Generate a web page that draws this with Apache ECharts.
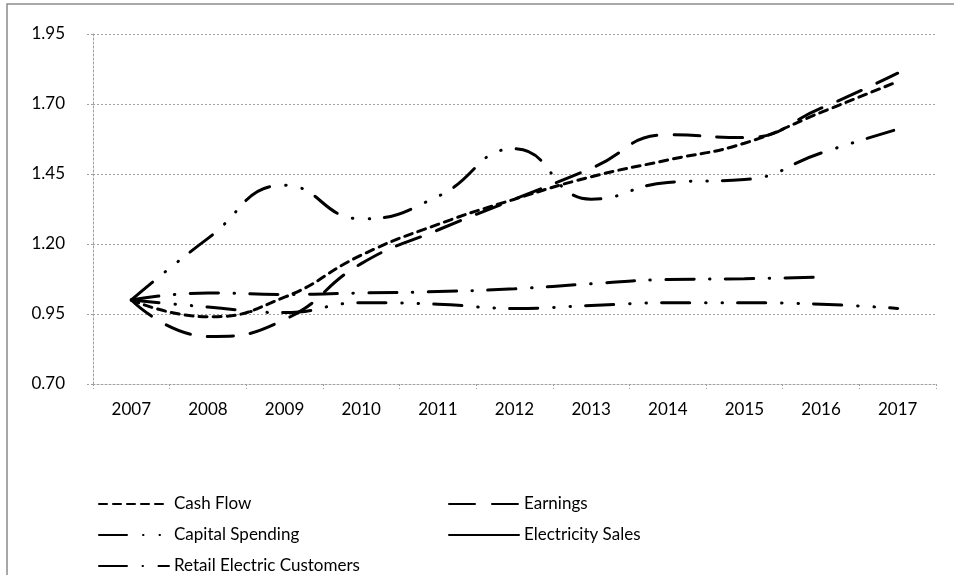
<!DOCTYPE html>
<html>
<head>
<meta charset="utf-8">
<script src="https://cdn.jsdelivr.net/npm/echarts@6/dist/echarts.min.js"></script>
<style>
html,body{margin:0;padding:0;background:#fff;}
#chart{width:954px;height:575px;}
</style>
</head>
<body>
<div id="chart"></div>
<script>
const years = ['2007','2008','2009','2010','2011','2012','2013','2014','2015','2016','2017'];
const cashFlow = [1.00, 0.94, 1.01, 1.16, 1.27, 1.36, 1.44, 1.50, 1.56, 1.67, 1.78];
const earnings = [1.00, 0.87, 0.93, 1.13, 1.25, 1.36, 1.47, 1.59, 1.58, 1.685, 1.81];
const capitalSpending = [1.00, 1.22, 1.41, 1.29, 1.37, 1.54, 1.36, 1.42, 1.43, 1.525, 1.61];
const electricitySales = [1.00, 0.975, 0.955, 0.99, 0.985, 0.97, 0.98, 0.99, 0.99, 0.985, 0.97];
const retailCustomers = [1.00, 1.025, 1.02, 1.025, 1.03, 1.04, 1.058, 1.073, 1.076, 1.082];
const yTicks = ['0.70','0.95','1.20','1.45','1.70','1.95'];

const FONT = 'Lato';
const gridColor = '#a0a0a0';
const dot = [2, 2];

function ser(name, data, dash) {
  return {
    name: name, type: 'line', data: data, smooth: 0.5, symbol: 'none',
    lineStyle: {color: '#000', width: 3, type: dash, cap: 'round'},
    itemStyle: {color: '#000'}
  };
}

const chart = echarts.init(document.getElementById('chart'));
function leg(name, left, top, extra) {
  const item = Object.assign({name: name}, extra || {});
  return {
    data: [item], left: left, top: top, padding: 0,
    itemWidth: 70, itemHeight: 14, selectedMode: false,
    itemStyle: {opacity: 0, borderWidth: 0},
    textStyle: {fontFamily: FONT, fontSize: 17, color: '#000', lineHeight: 18}
  };
}
chart.setOption({
  animation: false,
  backgroundColor: '#fff',
  graphic: [{
    type: 'rect', shape: {x: 7, y: 4, width: 1000, height: 700},
    style: {fill: 'none', stroke: '#8c8c8c', lineWidth: 1.5}, silent: true
  }],
  grid: {left: 93, right: 18, top: 34, bottom: 191},
  legend: [
    leg('Cash Flow', 98, 495),
    leg('Capital Spending', 98, 526),
    leg('Retail Electric Customers', 98, 557),
    leg('Earnings', 448, 495),
    leg('Electricity Sales', 448, 526, {lineStyle: {type: 'solid'}})
  ],
  xAxis: {
    type: 'category', data: years, boundaryGap: true,
    axisLine: {show: true, lineStyle: {color: gridColor, width: 1, type: dot}},
    axisTick: {show: true, length: 5, lineStyle: {color: gridColor, type: dot}},
    axisLabel: {fontFamily: FONT, fontSize: 17, color: '#000', margin: 17},
    splitLine: {show: false}
  },
  yAxis: {
    type: 'value', min: 0.70, max: 1.95, interval: 0.25,
    axisLine: {show: true, lineStyle: {color: gridColor, width: 1, type: dot}},
    axisTick: {show: true, length: 7, lineStyle: {color: gridColor, type: dot}},
    axisLabel: {fontFamily: FONT, fontSize: 17, color: '#000', margin: 28,
      formatter: function (v) { return v.toFixed(2); }},
    splitLine: {show: true, lineStyle: {color: gridColor, width: 1, type: dot}}
  },
  series: [
    ser('Cash Flow', cashFlow, [8, 6]),
    ser('Earnings', earnings, [26, 17]),
    ser('Capital Spending', capitalSpending, [28, 16, 0.5, 16, 0.5, 15]),
    ser('Electricity Sales', electricitySales, [28, 16, 0.5, 16, 0.5, 15]),
    ser('Retail Electric Customers', retailCustomers, [28, 15.5, 0.5, 15.5])
  ]
});
</script>
</body>
</html>
